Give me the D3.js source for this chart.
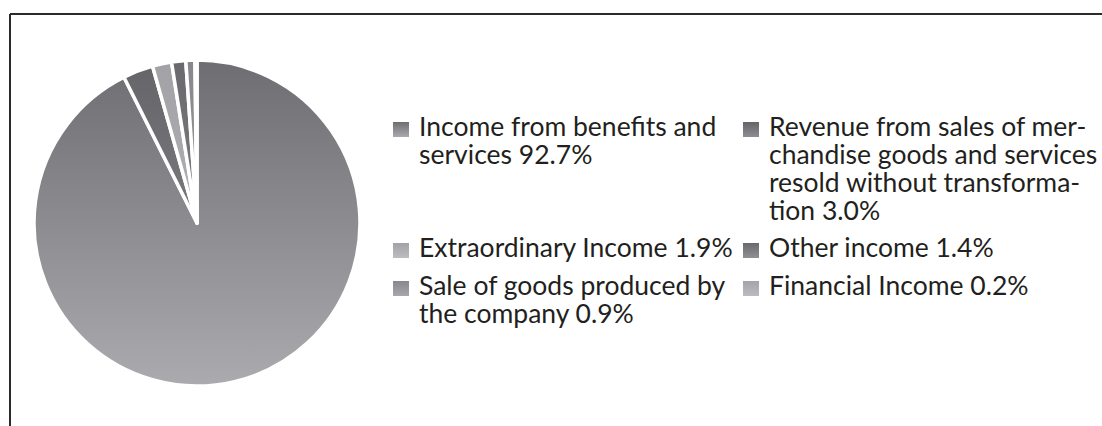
<!DOCTYPE html>
<html>
<head>
<meta charset="utf-8">
<script src="https://cdn.jsdelivr.net/npm/d3@7/dist/d3.min.js"></script>
<style>
  html, body { margin: 0; padding: 0; background: #fff; }
  svg { display: block; }
  .legend text { font-family: Lato, "Open Sans", sans-serif; font-size: 26.5px; fill: #231f20; }
</style>
</head>
<body>
<svg id="chart" width="1102" height="426"></svg>
<script>
// Income composition (share of total, %)
const categories = [
  "Income from benefits and services",
  "Revenue from sales of merchandise goods and services resold without transformation",
  "Extraordinary Income",
  "Other income",
  "Sale of goods produced by the company",
  "Financial Income"
];
const shares = [92.7, 3.0, 1.9, 1.4, 0.9, 0.2];
// Legend text, already broken into lines
const legendLines = [
  ["Income from benefits and", "services 92.7%"],
  ["Revenue from sales of mer-", "chandise goods and services", "resold without transforma-", "tion 3.0%"],
  ["Extraordinary Income 1.9%"],
  ["Other income 1.4%"],
  ["Sale of goods produced by", "the company 0.9%"],
  ["Financial Income 0.2%"]
];
// Grey gradient stops (top, bottom) per slice
const shadeTop = ["#6e6e72", "#656569", "#a2a2a6", "#6a6a6e", "#88888c", "#a4a4a8"];
const shadeBottom = ["#ababaf", "#8e8e92", "#bdbdc1", "#909094", "#a8a8ac", "#bcbcc0"];

const svg = d3.select("#chart");
const W = 1102, H = 426;

// frame: top and left rules
svg.append("line").attr("x1", 10).attr("y1", 14).attr("x2", W).attr("y2", 14)
  .attr("stroke", "#2b2b2b").attr("stroke-width", 2);
svg.append("line").attr("x1", 10).attr("y1", 14).attr("x2", 10).attr("y2", H)
  .attr("stroke", "#2b2b2b").attr("stroke-width", 2);

const cx = 197, cy = 223, R = 163;
const defs = svg.append("defs");

shares.forEach((_, i) => {
  const g = defs.append("linearGradient")
    .attr("id", "pieShade" + i)
    .attr("gradientUnits", "userSpaceOnUse")
    .attr("x1", 0).attr("y1", -R).attr("x2", 0).attr("y2", R);
  g.append("stop").attr("offset", "0%").attr("stop-color", shadeTop[i]);
  g.append("stop").attr("offset", "100%").attr("stop-color", shadeBottom[i]);
  const s = defs.append("linearGradient")
    .attr("id", "keyShade" + i)
    .attr("x1", 0).attr("y1", 0).attr("x2", 0).attr("y2", 1);
  s.append("stop").attr("offset", "0%").attr("stop-color", shadeTop[i]);
  s.append("stop").attr("offset", "100%").attr("stop-color", shadeBottom[i]);
});

const pie = d3.pie().sort(null).value(d => d);
const arc = d3.arc().innerRadius(0).outerRadius(R);

svg.append("g")
  .attr("transform", `translate(${cx},${cy})`)
  .selectAll("path")
  .data(pie(shares))
  .join("path")
  .attr("d", arc)
  .attr("fill", (d, i) => `url(#pieShade${i})`)
  .attr("stroke", "#fff")
  .attr("stroke-width", 3.5)
  .attr("stroke-linejoin", "round");

// Legend: two columns, rows laid out by line count
const colX = [393, 743];
const lineH = 28;
const rowBase = [136, 257, 295];
const legendPos = [
  { col: 0, y: rowBase[0] }, { col: 1, y: rowBase[0] },
  { col: 0, y: rowBase[1] }, { col: 1, y: rowBase[1] },
  { col: 0, y: rowBase[2] }, { col: 1, y: rowBase[2] }
];

const leg = svg.append("g").attr("class", "legend");
const item = leg.selectAll("g.item")
  .data(categories.map((c, i) => ({ c, i, lines: legendLines[i], pos: legendPos[i] })))
  .join("g")
  .attr("class", "item")
  .attr("transform", d => `translate(${colX[d.pos.col]},${d.pos.y})`);

item.append("rect")
  .attr("x", 0).attr("y", -14).attr("width", 16).attr("height", 15)
  .attr("fill", d => `url(#keyShade${d.i})`);

item.append("text")
  .attr("x", 26)
  .selectAll("tspan")
  .data(d => d.lines)
  .join("tspan")
  .attr("x", 26)
  .attr("y", (t, j) => j * lineH)
  .text(t => t);
</script>
</body>
</html>
